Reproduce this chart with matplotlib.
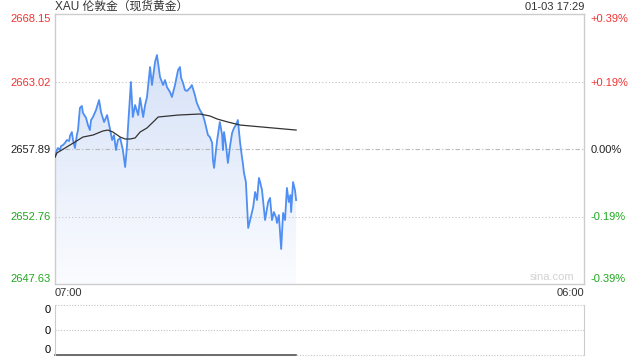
import numpy as np
import matplotlib.pyplot as plt
from matplotlib.colors import LinearSegmentedColormap

plt.rcParams['font.family'] = ['Liberation Sans', 'Noto Sans CJK SC', 'DejaVu Sans']

# minutes since 07:00 and spot price
minutes = [0, 5, 8, 13, 16, 21, 26, 31, 37, 39, 44, 47, 52, 57, 60, 65, 70, 73, 81, 86,
           91, 94, 99, 107, 115, 120, 128, 136, 144, 149, 154, 159, 164, 170, 177, 183,
           188, 190, 198, 203, 209, 217, 222, 230, 235, 240, 248, 253, 261, 266, 274,
           282, 287, 292, 300, 305, 313, 321, 326, 329, 334, 339, 344, 352, 357, 365,
           370, 378, 386, 391, 399, 404, 410, 412, 415, 420, 423, 430, 436, 438, 441,
           446, 451, 457, 462, 467, 472, 477, 483, 488, 490, 493, 498, 504, 509, 514,
           517, 522, 527, 532, 535, 540, 548, 556, 561, 566, 571, 577, 579, 584, 590,
           595, 600, 605, 610, 614, 616, 621, 626, 629]
prices = [2657.28, 2657.81, 2657.97, 2657.81, 2658.12, 2658.19, 2658.35, 2658.57, 2658.50,
          2658.88, 2659.18, 2658.57, 2657.97, 2658.95, 2659.33, 2661.01, 2661.16, 2660.63,
          2660.25, 2659.71, 2659.33, 2660.09, 2660.32, 2660.85, 2661.61, 2660.70, 2659.94,
          2660.47, 2659.33, 2658.57, 2658.95, 2657.81, 2658.57, 2658.73, 2657.81, 2656.52,
          2658.19, 2659.33, 2662.98, 2660.32, 2661.23, 2660.47, 2661.77, 2660.32, 2661.23,
          2661.84, 2664.12, 2662.75, 2664.50, 2665.03, 2663.36, 2662.75, 2663.13, 2662.60,
          2662.22, 2661.84, 2662.75, 2663.89, 2664.12, 2663.29, 2662.91, 2662.37, 2662.30,
          2662.53, 2662.75, 2661.99, 2661.39, 2660.85, 2660.47, 2659.94, 2658.95, 2658.80,
          2658.35, 2657.05, 2656.45, 2657.81, 2658.57, 2659.94, 2658.95, 2657.81, 2659.18,
          2658.19, 2656.83, 2658.19, 2659.11, 2659.49, 2659.71, 2660.09, 2658.35, 2657.21,
          2656.83, 2656.07, 2655.38, 2651.89, 2652.49, 2653.10, 2653.48, 2654.62, 2654.01,
          2655.69, 2655.38, 2654.77, 2652.49, 2653.86, 2654.17, 2652.49, 2653.10, 2652.65,
          2652.27, 2652.87, 2650.29, 2653.03, 2652.49, 2654.93, 2653.86, 2654.39, 2653.10,
          2655.38, 2654.77, 2654.01]
avg_minutes = [0, 5, 39, 73, 99, 125, 138, 151, 170, 183, 196, 209, 222, 240, 256, 269,
               321, 378, 404, 423, 451, 483, 629]
avg_prices = [2657.28, 2657.59, 2658.19, 2658.80, 2658.95, 2659.26, 2659.33, 2659.18,
              2658.80, 2658.65, 2658.65, 2658.73, 2659.18, 2659.49, 2659.94, 2660.32,
              2660.47, 2660.55, 2660.40, 2660.17, 2659.94, 2659.71, 2659.33]
volume = [0] * len(minutes)

price_ticks = [2647.63, 2652.76, 2657.89, 2663.02, 2668.15]
price_labels = ['2647.63', '2652.76', '2657.89', '2663.02', '2668.15']
pct_labels = ['-0.39%', '-0.19%', '0.00%', '+0.19%', '+0.39%']
tick_colors = ['#1fa81f', '#1fa81f', '#222222', '#f23333', '#f23333']

ymin, ymax = price_ticks[0], price_ticks[-1]
grid_col = '#cccccc'

fig = plt.figure(figsize=(6.4, 3.6), dpi=100)
ax = fig.add_axes([55 / 640, 1 - 284 / 360, 529 / 640, 270 / 360])

# gradient fill under the price line
poly = ax.fill_between(minutes, prices, ymin, color='none', lw=0)
cmap = LinearSegmentedColormap.from_list('fill', ['#fbfcff', '#cfddf6'])
grad = np.linspace(0, 1, 256).reshape(-1, 1)
img = ax.imshow(grad, extent=[0, 1380, ymin, ymax], origin='lower', cmap=cmap,
                aspect='auto', zorder=1)
img.set_clip_path(poly.get_paths()[0], transform=ax.transData)

ax.plot(minutes, prices, color='#4f8ef2', lw=1.3, zorder=3)
ax.plot(avg_minutes, avg_prices, color='#333333', lw=0.9, zorder=4)

ax.axhline(price_ticks[1], color='#c4c4c4', lw=0.8, ls=(0, (1, 2)), zorder=2)
ax.axhline(price_ticks[3], color='#c4c4c4', lw=0.8, ls=(0, (1, 2)), zorder=2)
ax.axhline(price_ticks[2], color='#b8b8b8', lw=0.8, ls=(0, (4, 2, 1, 2)), zorder=2)

ax.set_xlim(0, 1380)
ax.set_ylim(ymin, ymax)
ax.set_xticks([])
ax.set_yticks(price_ticks, price_labels)
ax.tick_params(axis='y', length=0, pad=3, labelsize=8)
for sp in ax.spines.values():
    sp.set_color(grid_col)
    sp.set_linewidth(1)

axr = ax.twinx()
axr.set_ylim(ymin, ymax)
axr.set_yticks(price_ticks, pct_labels)
axr.tick_params(axis='y', length=0, pad=4.5, labelsize=8)
for sp in axr.spines.values():
    sp.set_visible(False)

for labels in (ax.get_yticklabels(), axr.get_yticklabels()):
    for lab, c in zip(labels, tick_colors):
        lab.set_color(c)
    labels[0].set_verticalalignment('bottom')
    labels[-1].set_verticalalignment('top')

ax.text(0.94, 0.008, 'sina.com', transform=ax.transAxes, ha='center', va='bottom',
        fontsize=8, color='#d2d2d2')

# volume panel
ax2 = fig.add_axes([55 / 640, 1 - 355 / 360, 529 / 640, 50 / 360])
ax2.set_xlim(0, 1380)
ax2.set_ylim(0, 1)
for yv in (0, 0.5, 1):
    ax2.axhline(yv, color='#c4c4c4', lw=0.8, ls=(0, (1, 1.5)), clip_on=False)
ax2.plot(minutes, volume, color='#555555', lw=1.2, clip_on=False)
ax2.set_xticks([])
ax2.set_yticks([0, 0.5, 1], ['0', '0', '0'])
ax2.tick_params(axis='y', length=0, pad=3, labelsize=8)
vlabels = ax2.get_yticklabels()
vlabels[0].set_verticalalignment('bottom')
vlabels[-1].set_verticalalignment('top')
for name, sp in ax2.spines.items():
    if name in ('top', 'bottom'):
        sp.set_visible(False)
    else:
        sp.set_color(grid_col)

fig.text(55 / 640, 1 - 7 / 360, 'XAU 伦敦金（现货黄金）', va='center', ha='left',
         fontsize=8.5, color='#333333')
fig.text(584 / 640, 1 - 7 / 360, '01-03 17:29', va='center', ha='right',
         fontsize=8, color='#333333')
fig.text(55 / 640, 1 - 293 / 360, '07:00', va='center', ha='left', fontsize=8,
         color='#333333')
fig.text(584 / 640, 1 - 293 / 360, '06:00', va='center', ha='right', fontsize=8,
         color='#333333')

fig.savefig('out.png', dpi=100)
